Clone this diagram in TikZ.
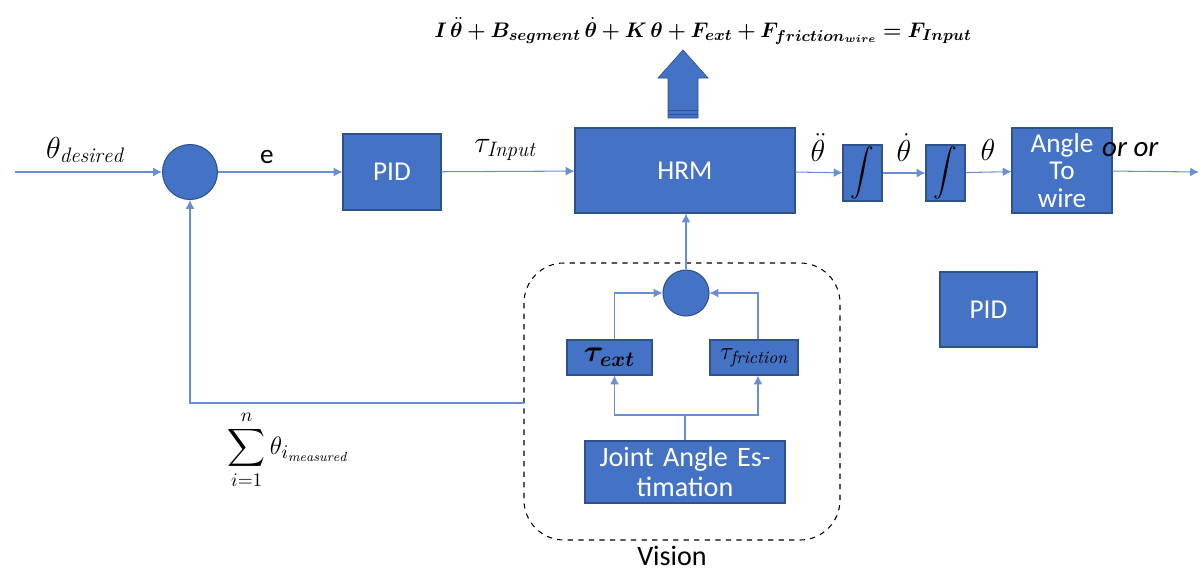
\documentclass[tikz,border=0pt]{standalone}
\usepackage{amsmath,amssymb,bm}
\usepackage{fontspec}
\usepackage{xcolor}
\usepackage{tikz}
\usetikzlibrary{arrows.meta,calc}
\newfontfamily\calibri{Carlito}
\definecolor{blockfill}{RGB}{68,114,196}
\definecolor{blockedge}{RGB}{47,82,143}
\definecolor{wireblue}{RGB}{105,142,210}
\tikzset{
  block/.style={rectangle,fill=blockfill,draw=blockedge,line width=0.6pt,text=white,font=\calibri\fontsize{15.5}{17}\selectfont,align=center,inner sep=1pt},
  mathblock/.style={block,text=black},
  junction/.style={circle,fill=blockfill,draw=blockedge,line width=0.6pt,inner sep=0pt},
  conn/.style={wireblue,line width=0.6pt,-{Latex[length=5pt,width=5pt]}},
  wire/.style={wireblue,line width=0.6pt},
  sig/.style={font=\fontsize{17}{19}\selectfont}
}
\begin{document}
\begin{tikzpicture}[x=0.02cm,y=-0.02cm]
  \useasboundingbox (0,0) rectangle (1201,582);
  % forward path
  \coordinate (in) at (15,172);
  \coordinate (out) at (1199,172);
  \node[junction,minimum size=1.1cm] (sum1) at (190,172) {};
  \node[block,minimum width=1.96cm,minimum height=1.52cm] (pid) at (392,172) {PID};
  \node[block,minimum width=4.4cm,minimum height=1.7cm] (hrm) at (685,170.5) {HRM};
  \node[mathblock,minimum width=0.78cm,minimum height=1.12cm,inner sep=0pt] (int1) at (862.5,173) {\fontsize{13.5}{14}\selectfont$\displaystyle\int$};
  \node[mathblock,minimum width=0.78cm,minimum height=1.12cm,inner sep=0pt] (int2) at (945.5,173) {\fontsize{13.5}{14}\selectfont$\displaystyle\int$};
  \node[block,minimum width=2.0cm,minimum height=1.7cm,text width=1.9cm,font=\calibri\fontsize{15.5}{15.5}\selectfont] (a2w) at (1062,170.5) {Angle\\To\\wire};
  \node[block,minimum width=1.94cm,minimum height=1.5cm] (pid2) at (988.5,309.5) {PID};
  % vision part
  \draw[dashed,line width=0.6pt,rounded corners=0.8cm] (524,263) rectangle (840,540);
  \coordinate (fb) at (524,403);
  \node[junction,minimum size=0.92cm] (sum2) at (686,293) {};
  \node[mathblock,minimum width=1.7cm,minimum height=0.7cm] (text) at (609.5,357.5) {\LARGE$\bm{\tau_{ext}}$};
  \node[mathblock,minimum width=1.76cm,minimum height=0.7cm] (tfric) at (754,357.5) {\Large$\tau_{\mathit{friction}}$};
  \node[block,minimum width=4.0cm,minimum height=1.24cm,text width=3.9cm,font=\calibri\fontsize{16}{17}\selectfont] (jae) at (685,472) {Joint Angle Es-\\timation};
  \coordinate (split) at (685,415);
  \node[font=\calibri\fontsize{16}{18}\selectfont] (vis) at (672,556) {Vision};
  % connectors
  \draw[conn] (in) -- (sum1);
  \draw[conn] (sum1) -- (pid);
  \draw[conn] (pid) -- (hrm);
  \draw[conn] (hrm) -- (int1);
  \draw[conn] (int1) -- (int2);
  \draw[conn] (int2) -- (a2w);
  \draw[conn] (a2w) -- (out);
  \draw[conn] (fb) -| (sum1.south);
  \draw[conn] (sum2.north) -- (sum2.north |- hrm.south);
  \draw[conn] ([xshift=0.1cm]text.north) |- (sum2.west);
  \draw[conn] ([xshift=0.08cm]tfric.north) |- (sum2.east);
  \draw[wire] (jae.north) -- (split);
  \draw[conn] (split) -| ([xshift=0.1cm]text.south);
  \draw[conn] (split) -| ([xshift=0.08cm]tfric.south);
  % block arrow above HRM
  \fill[blockfill,draw=blockedge,line width=0.4pt] (658,78) -- (683,50) -- (708,78) -- (698,78) -- (698,118) -- (668,118) -- (668,78) -- cycle;
  \draw[blockedge,line width=0.4pt] (668,110) -- (698,110) (668,114) -- (698,114);
  % labels
  \node[sig] (lthd) at (85,150) {$\theta_{\mathit{desired}}$};
  \node[font=\calibri\fontsize{15.5}{17}\selectfont] (le) at (267,157) {e};
  \node[sig] (ltin) at (505,150) {$\tau_{\mathit{Input}}$};
  \node[sig] (lddot) at (818,148) {$\ddot\theta$};
  \node[sig] (ldot) at (904,148) {$\dot\theta$};
  \node[sig] (lth) at (988,150) {$\theta$};
  \node[font=\calibri\itshape\fontsize{16.5}{18}\selectfont,anchor=west] (lor) at (1096,150) {or or};
  \node[font=\fontsize{15}{17}\selectfont] (lsum) at (288,450) {$\displaystyle\sum_{i=1}^{n}\theta_{i_{\mathit{measured}}}$};
  \node[font=\fontsize{12.5}{14}\selectfont] (eqn) at (703,31) {$\bm{I\,\ddot\theta+B_{segment}\,\dot\theta+K\,\theta+F_{ext}+F_{friction_{wire}}=F_{Input}}$};
\end{tikzpicture}
\end{document}
